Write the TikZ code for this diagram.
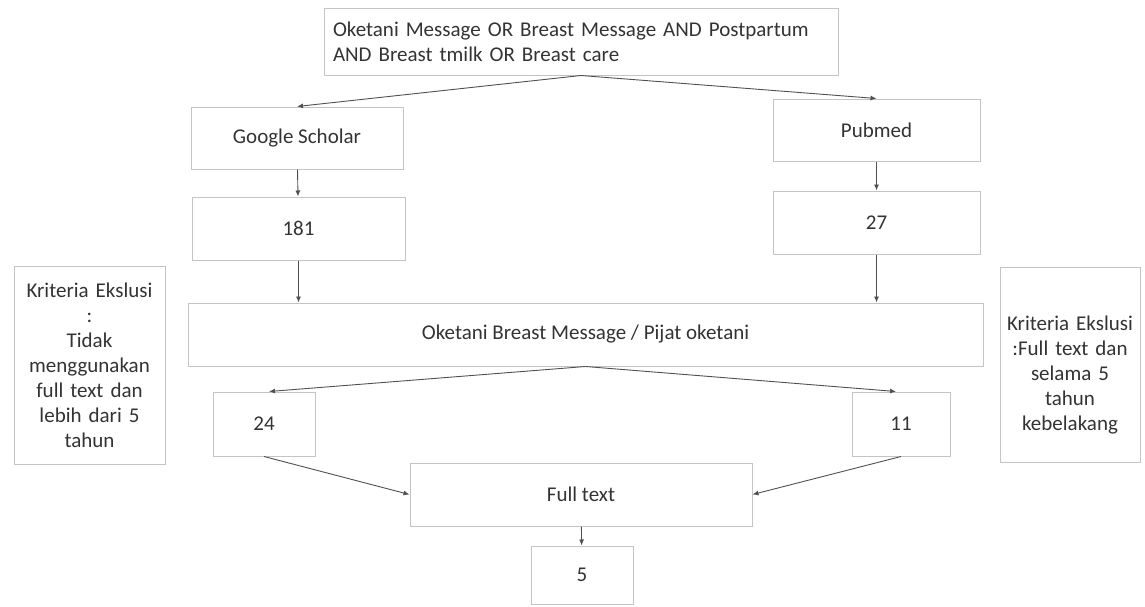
\documentclass[tikz,border=0pt]{standalone}
\usepackage{fontspec}
\setmainfont{Carlito}
\usetikzlibrary{arrows.meta}
\definecolor{txt}{HTML}{333333}
\definecolor{brd}{HTML}{C4C4C4}
\definecolor{arr}{HTML}{505050}
\tikzset{
  boxnode/.style={draw=brd, line width=1pt, text=txt, font=\fontsize{21}{25}\selectfont, align=center, inner sep=0pt},
  conn/.style={draw=arr, line width=0.9pt, -{Latex[length=6pt,width=5pt]}}
}
\begin{document}
\begin{tikzpicture}[x=1pt,y=-1pt]
\useasboundingbox (0,0) rectangle (1145,606);
\node[boxnode, minimum width=514pt, minimum height=67pt, text width=496pt, align=left] (top) at (581,41.5) {Oketani Message OR Breast Message AND Postpartum\\AND Breast tmilk OR Breast care};
\node[boxnode, minimum width=212pt, minimum height=62pt] (gs) at (297,138) {Google Scholar};
\node[boxnode, minimum width=213pt, minimum height=63pt] (n181) at (298.5,228.5) {181};
\node[boxnode, minimum width=207pt, minimum height=62pt] (pub) at (876.5,130) {Pubmed};
\node[boxnode, minimum width=207pt, minimum height=63pt] (n27) at (876.5,222.5) {27};
\node[boxnode, minimum width=795pt, minimum height=63pt] (okt) at (585.5,334.5) {Oketani Breast Message / Pijat oketani};
\node[boxnode, minimum width=102pt, minimum height=64pt] (n24) at (264,424) {24};
\node[boxnode, minimum width=98pt, minimum height=64pt] (n11) at (901,424) {11};
\node[boxnode, minimum width=342pt, minimum height=63pt] (full) at (581,494.5) {Full text};
\node[boxnode, minimum width=102pt, minimum height=58pt] (n5) at (582,575) {5};
\node[boxnode, minimum width=151pt, minimum height=198pt, text width=146pt] (kl) at (89.5,365) {Kriteria Ekslusi\\:\\Tidak\\menggunakan\\full text dan\\lebih dari 5\\tahun};
\node[boxnode, minimum width=140pt, minimum height=195pt, text width=138pt] (kr) at (1070,364.5) {\rule{0pt}{36pt}Kriteria Ekslusi\\:Full text dan\\selama 5\\tahun\\kebelakang};
\draw[conn] (top.south) -- (gs.north);
\draw[conn] (top.south) -- (pub.north);
\draw[conn] (gs) -- (n181);
\draw[conn] (pub) -- (n27);
\draw[conn] (n181.south) -- (n181.south |- okt.north);
\draw[conn] (n27.south) -- (n27.south |- okt.north);
\draw[conn] (okt.south) -- ([xshift=5pt]n24.north);
\draw[conn] (okt.south) -- ([xshift=-5pt]n11.north);
\draw[conn] (n24.south) -- (full.west);
\draw[conn] (n11.south) -- (full.east);
\draw[conn] (full) -- (n5);
\end{tikzpicture}
\end{document}
